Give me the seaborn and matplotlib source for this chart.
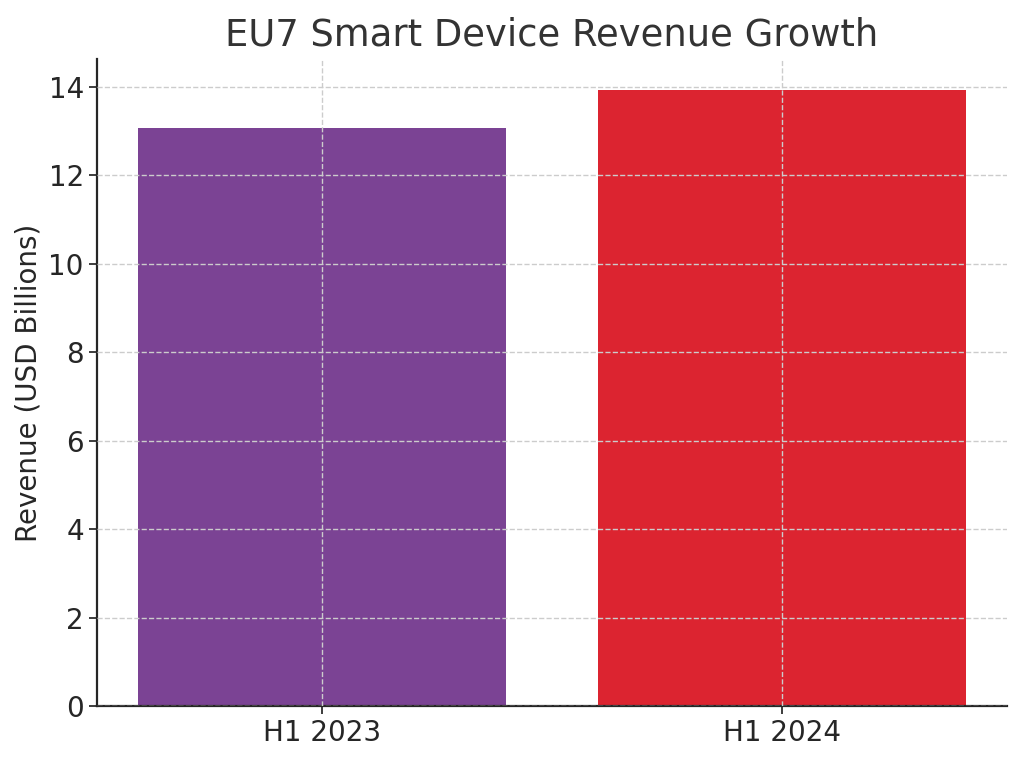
import matplotlib
matplotlib.use("Agg")
import matplotlib.pyplot as plt
import seaborn as sns
import pandas as pd

periods = ["H1 2023", "H1 2024"]
revenue = [13.07, 13.93]
bar_colors = ["#7B4394", "#DC2430"]

sns.set_theme(style="ticks")
plt.rcParams['font.family'] = ['DejaVu Sans']

df = pd.DataFrame({"Period": periods, "Revenue": revenue})

fig = plt.figure(figsize=(10.24, 7.58), dpi=100)
ax = fig.add_axes([0.0947, 0.0686, 0.8887, 0.8536])

sns.barplot(data=df, x="Period", y="Revenue", hue="Period", palette=bar_colors,
            legend=False, width=0.8, linewidth=0, saturation=1, ax=ax)

ax.set_xlim(-0.49, 1.49)
ax.set_ylim(0, max(revenue) * 1.05)
ax.set_axisbelow(False)
ax.grid(True, linestyle="--", color="#cccccc", linewidth=1.0)

ax.set_title("EU7 Smart Device Revenue Growth", fontsize=26.6, color="#333333", pad=10)
ax.set_xlabel("")
ax.set_ylabel("Revenue (USD Billions)", fontsize=20, color="#262626")
ax.tick_params(axis="both", labelsize=20, colors="#262626", length=6, width=1.25)
ax.tick_params(axis="both", color="#262626")

for s in ["top", "right"]:
    ax.spines[s].set_visible(False)
for s in ["left", "bottom"]:
    ax.spines[s].set_color("#262626")
    ax.spines[s].set_linewidth(1.6)

fig.savefig("out.png", dpi=100)
